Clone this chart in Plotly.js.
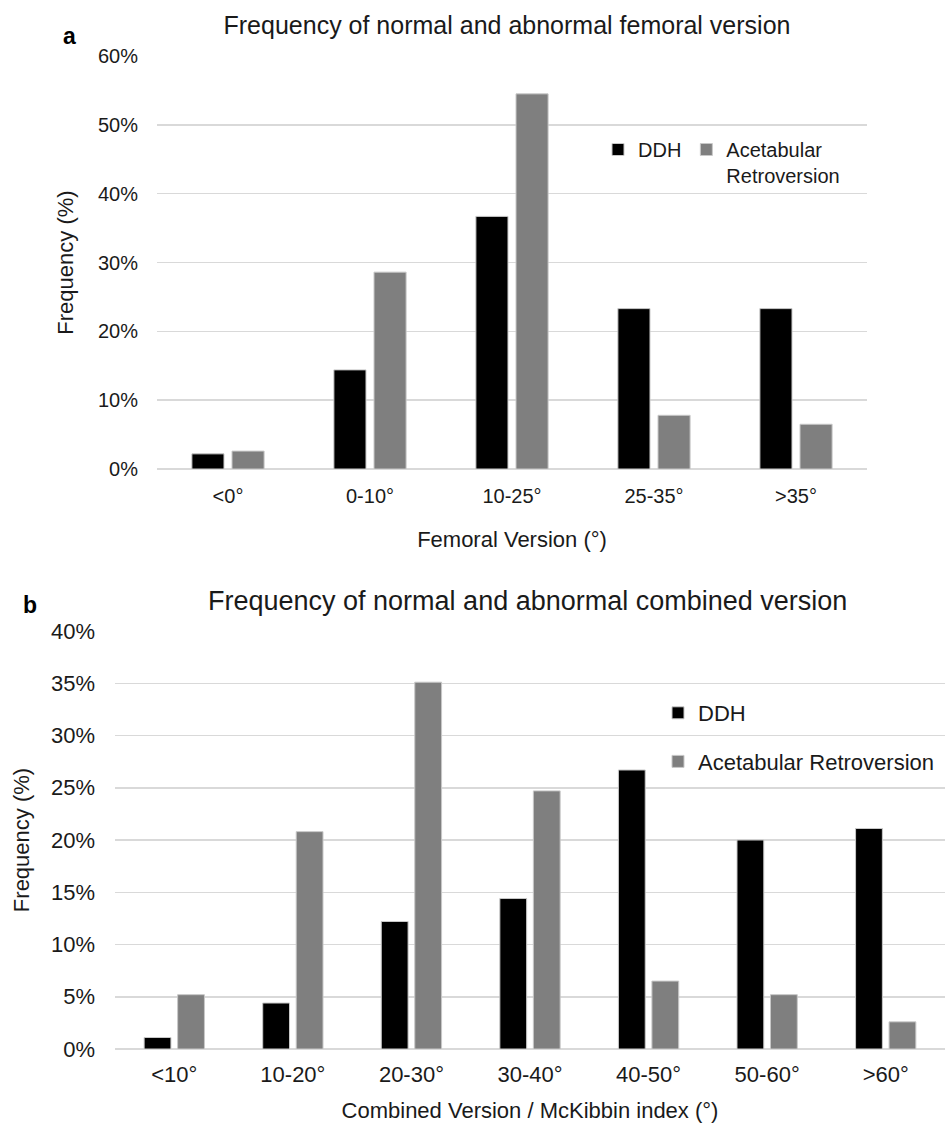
<!DOCTYPE html>
<html>
<head>
<meta charset="utf-8">
<script src="https://cdn.plot.ly/plotly-3.0.1.min.js"></script>
<style>html,body{margin:0;padding:0;background:#fff;}#chart{width:945px;height:1125px;}</style>
</head>
<body>
<div id="chart"></div>
<script>
// ---- Data ----
var femoralCategories = ['<0°', '0-10°', '10-25°', '25-35°', '>35°'];
var femoralDDH = [2.2, 14.4, 36.7, 23.3, 23.3];
var femoralAR = [2.6, 28.6, 54.5, 7.8, 6.5];

var combinedCategories = ['<10°', '10-20°', '20-30°', '30-40°', '40-50°', '50-60°', '>60°'];
var combinedDDH = [1.1, 4.4, 12.2, 14.4, 26.7, 20.0, 21.1];
var combinedAR = [5.2, 20.8, 35.1, 24.7, 6.5, 5.2, 2.6];

var seriesNames = ['DDH', 'Acetabular Retroversion'];
var yTickSuffix = '%';

// ---- Styling ----
var FONT = 'Liberation Sans, Arial, sans-serif';
var TXT = '#1a1a1a';
var GRID = '#d9d9d9';
var C_DDH = '#000000';
var C_AR = '#7f7f7f';
var W = 945, H = 1125;
function px(x) { return x / W; }
function py(y) { return 1 - y / H; }

var traces = [
  {type: 'bar', x: femoralCategories, y: femoralDDH, name: seriesNames[0],
   xaxis: 'x', yaxis: 'y', legend: 'legend',
   marker: {color: C_DDH, line: {color: '#c8c8c8', width: 1}}},
  {type: 'bar', x: femoralCategories, y: femoralAR, name: 'Acetabular<br>Retroversion',
   xaxis: 'x', yaxis: 'y', legend: 'legend',
   marker: {color: C_AR, line: {color: '#c8c8c8', width: 1}}},
  {type: 'bar', x: combinedCategories, y: combinedDDH, name: seriesNames[0],
   xaxis: 'x2', yaxis: 'y2', legend: 'legend2', legendgroup: 'g1',
   marker: {color: C_DDH, line: {color: '#c8c8c8', width: 1}}},
  {type: 'bar', x: combinedCategories, y: combinedAR, name: seriesNames[1],
   xaxis: 'x2', yaxis: 'y2', legend: 'legend2', legendgroup: 'g2',
   marker: {color: C_AR, line: {color: '#c8c8c8', width: 1}}}
];

var layout = {
  width: W, height: H,
  margin: {l: 0, r: 0, t: 0, b: 0},
  paper_bgcolor: '#ffffff', plot_bgcolor: '#ffffff',
  font: {family: FONT, color: TXT},
  barmode: 'group', bargap: 0.435, bargroupgap: 0.2,
  showlegend: true,
  title: {text: 'Frequency of normal and abnormal femoral version',
          font: {size: 25, color: TXT, family: FONT},
          x: px(507), xref: 'paper', xanchor: 'center',
          y: py(25), yref: 'paper', yanchor: 'middle'},
  xaxis: {domain: [px(157), px(867)], anchor: 'y', automargin: false,
          showgrid: false, showline: false, zeroline: false, ticks: '',
          tickfont: {size: 20, color: TXT}, ticklabelstandoff: 13,
          title: {text: 'Femoral Version (°)', font: {size: 22, color: TXT}, standoff: 25}},
  yaxis: {domain: [py(469), py(56)], anchor: 'x', automargin: false,
          range: [0, 60], dtick: 10, tick0: 0, ticksuffix: yTickSuffix,
          showgrid: true, gridcolor: GRID, gridwidth: 1.5,
          zeroline: true, zerolinecolor: GRID, zerolinewidth: 1.5,
          showline: false, ticks: '',
          tickfont: {size: 20, color: TXT}, ticklabelstandoff: 18,
          title: {text: 'Frequency (%)', font: {size: 22, color: TXT}, standoff: 18}},
  xaxis2: {domain: [px(115), px(945)], anchor: 'y2', automargin: false,
           showgrid: false, showline: false, zeroline: false, ticks: '',
           tickfont: {size: 22, color: TXT}, ticklabelstandoff: 10,
           title: {text: 'Combined Version / McKibbin index (°)', font: {size: 22, color: TXT}, standoff: 16}},
  yaxis2: {domain: [py(1049), py(631)], anchor: 'x2', automargin: false,
           range: [0, 40], dtick: 5, tick0: 0, ticksuffix: yTickSuffix,
           showgrid: true, gridcolor: GRID, gridwidth: 1.5,
           zeroline: true, zerolinecolor: GRID, zerolinewidth: 1.5,
           showline: false, ticks: '',
           tickfont: {size: 22, color: TXT}, ticklabelstandoff: 19,
           title: {text: 'Frequency (%)', font: {size: 22, color: TXT}, standoff: 15}},
  legend: {orientation: 'h', x: px(598), xanchor: 'left', y: py(130), yanchor: 'top',
           valign: 'top', font: {size: 20, color: TXT}, bgcolor: 'rgba(0,0,0,0)',
           traceorder: 'normal'},
  legend2: {orientation: 'v', x: px(658), xanchor: 'left', y: py(692), yanchor: 'top',
            font: {size: 22, color: TXT}, bgcolor: 'rgba(0,0,0,0)',
            traceorder: 'grouped', tracegroupgap: 17},
  annotations: [
    {text: '<b>a</b>', x: px(69), y: py(36), xref: 'paper', yref: 'paper',
     xanchor: 'center', yanchor: 'middle', showarrow: false, font: {size: 23, color: '#000', family: FONT}},
    {text: '<b>b</b>', x: px(30), y: py(605), xref: 'paper', yref: 'paper',
     xanchor: 'center', yanchor: 'middle', showarrow: false, font: {size: 23, color: '#000', family: FONT}},
    {text: 'Frequency of normal and abnormal combined version', x: px(527), y: py(601),
     xref: 'paper', yref: 'paper', xanchor: 'center', yanchor: 'middle', showarrow: false,
     font: {size: 27, color: TXT, family: FONT}}
  ]
};

Plotly.newPlot('chart', traces, layout, {staticPlot: true, displayModeBar: false});
</script>
</body>
</html>
